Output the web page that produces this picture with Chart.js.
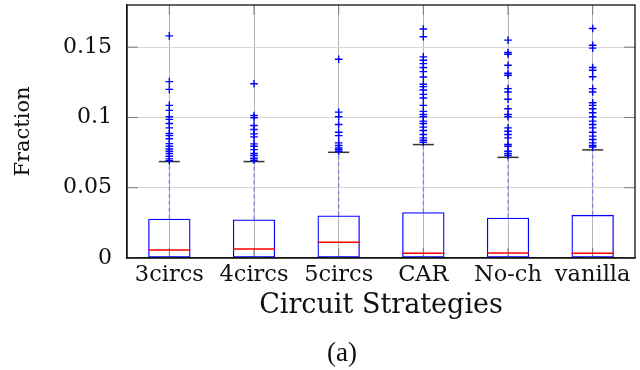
<!DOCTYPE html>
<html>
<head>
<meta charset="utf-8">
<title>Circuit Strategies</title>
<script src="https://cdn.jsdelivr.net/npm/chart.js@4.4.1/dist/chart.umd.min.js"></script>
<style>
  html, body { margin: 0; padding: 0; background: #fff; }
  #wrap { width: 640px; height: 370px; }
</style>
</head>
<body>
<div id="wrap"><canvas id="boxChart" width="640" height="370"></canvas></div>
<script>
// box plot data per circuit strategy
const categories = ['3circs', '4circs', '5circs', 'CAR', 'No-ch', 'vanilla'];
const lowerWhisker = [0, 0, 0, 0, 0, 0];
const q1 = [0, 0, 0, 0, 0, 0];
const medians = [0.0057, 0.0064, 0.0112, 0.0034, 0.0036, 0.0034];
const q3 = [0.0279, 0.0274, 0.0302, 0.0326, 0.0286, 0.0307];
const upperWhisker = [0.0686, 0.0686, 0.0752, 0.0807, 0.0716, 0.0769];

const outliers3circs = [0.158, 0.1255, 0.12, 0.1086, 0.105, 0.1005, 0.0986, 0.0957, 0.0926, 0.0886,
  0.0871, 0.0848, 0.0814, 0.0795, 0.0776, 0.076, 0.0743, 0.0724, 0.0705, 0.0693];
const outliers4circs = [0.124, 0.1014, 0.0998, 0.0943, 0.0914, 0.0883, 0.0862, 0.0812, 0.0795,
  0.0771, 0.0743, 0.0729, 0.071, 0.0695];
const outliers5circs = [0.1414, 0.1038, 0.1005, 0.095, 0.0895, 0.0871, 0.0819, 0.08, 0.0783,
  0.0771, 0.076];
const outliersCAR = [0.1629, 0.1574, 0.1431, 0.1407, 0.1383, 0.1355, 0.1326, 0.1288, 0.1236,
  0.1219, 0.1195, 0.1164, 0.1138, 0.1086, 0.1043, 0.1021, 0.1005, 0.0974, 0.0957, 0.0931,
  0.0907, 0.0879, 0.0855, 0.0838, 0.0824];
const outliersNoCh = [0.155, 0.1462, 0.145, 0.1371, 0.1314, 0.13, 0.1205, 0.1181, 0.1129,
  0.1062, 0.1021, 0.1005, 0.0926, 0.0902, 0.0879, 0.0855, 0.0807, 0.0795, 0.076, 0.0743, 0.0729];
const outliersVanilla = [0.1633, 0.1514, 0.1493, 0.1355, 0.1336, 0.129, 0.1205, 0.1181, 0.1105,
  0.1086, 0.1062, 0.1033, 0.1005, 0.0974, 0.095, 0.0926, 0.0895, 0.0867, 0.0843, 0.0819, 0.08, 0.079];
const outliers = [outliers3circs, outliers4circs, outliers5circs, outliersCAR, outliersNoCh, outliersVanilla];

const yTicks = [0, 0.05, 0.1, 0.15];
const yTickLabels = ['0', '0.05', '0.1', '0.15'];
const yMax = 0.18;
const caption = '(a)';

const BLUE = '#0000ff';
const SERIF = "'DejaVu Serif', serif";

// dashed whisker from the box top up to the upper cap, one line per strategy
const whiskerSets = categories.map((c, i) => ({
  type: 'line',
  data: [{ x: c, y: q3[i] }, { x: c, y: upperWhisker[i] }],
  borderColor: 'rgba(70, 70, 255, 0.45)',
  borderWidth: 1.6,
  borderDash: [4, 3],
  pointRadius: 0,
  order: 3
}));

const outlierPoints = [];
outliers.forEach((list, i) => {
  list.forEach(v => outlierPoints.push({ x: categories[i], y: v }));
});

// inner tick marks, the closed frame round the plot and the sub-figure caption
const framePlugin = {
  id: 'frame',
  beforeDatasetsDraw(chart) {
    const { ctx, chartArea: a, scales: { x, y } } = chart;
    ctx.save();
    ctx.strokeStyle = '#7a7a7a';
    ctx.lineWidth = 1;
    const seg = (x0, y0, x1, y1) => {
      ctx.beginPath(); ctx.moveTo(x0, y0); ctx.lineTo(x1, y1); ctx.stroke();
    };
    yTicks.forEach(v => {
      const py = y.getPixelForValue(v);
      seg(a.left, py, a.left + 11, py);
      seg(a.right - 11, py, a.right, py);
    });
    categories.forEach((c, i) => {
      const px = x.getPixelForValue(i);
      seg(px, a.bottom, px, a.bottom - 10);
      seg(px, a.top, px, a.top + 10);
    });
    ctx.restore();
  },
  afterDatasetsDraw(chart) {
    const { ctx, chartArea: a } = chart;
    ctx.save();
    ctx.strokeStyle = '#111';
    ctx.lineWidth = 1.3;
    ctx.strokeRect(a.left, a.top, a.right - a.left, a.bottom - a.top);
    ctx.restore();
  },
  afterDraw(chart) {
    const { ctx, width, height } = chart;
    ctx.save();
    ctx.fillStyle = '#111';
    ctx.font = "27px 'Liberation Serif', serif";
    ctx.textAlign = 'center';
    ctx.textBaseline = 'middle';
    ctx.fillText(caption, width / 2 + 22, height - 16);
    ctx.restore();
  }
};

const config = {
  type: 'bar',
  data: {
    labels: categories,
    datasets: [
      {
        label: 'box',
        data: q1.map((lo, i) => [lo, q3[i]]),
        backgroundColor: 'rgba(0,0,0,0)',
        borderColor: BLUE,
        borderWidth: 1.3,
        borderSkipped: false,
        barPercentage: 0.5,
        categoryPercentage: 1.0,
        order: 4
      },
      ...whiskerSets,
      {
        type: 'line',
        label: 'median',
        data: medians,
        showLine: false,
        pointStyle: 'line',
        pointRadius: 21,
        pointBorderColor: '#ff0000',
        pointBorderWidth: 1.4,
        order: 2
      },
      {
        type: 'line',
        label: 'upper cap',
        data: upperWhisker,
        showLine: false,
        pointStyle: 'line',
        pointRadius: 10.5,
        pointBorderColor: '#333',
        pointBorderWidth: 1.5,
        order: 2
      },
      {
        type: 'line',
        label: 'lower cap',
        data: lowerWhisker,
        showLine: false,
        pointStyle: 'line',
        pointRadius: 10.5,
        pointBorderColor: '#333',
        pointBorderWidth: 1.5,
        order: 2
      },
      {
        type: 'line',
        label: 'outliers',
        data: outlierPoints,
        showLine: false,
        pointStyle: 'cross',
        pointRadius: 3.8,
        pointBorderColor: BLUE,
        pointBorderWidth: 1.4,
        order: 1
      }
    ]
  },
  options: {
    responsive: false,
    animation: false,
    layout: { autoPadding: false, padding: { top: 5, right: 5, left: 0, bottom: 36 } },
    plugins: {
      legend: { display: false },
      tooltip: { enabled: false },
      title: { display: false }
    },
    scales: {
      x: {
        offset: true,
        grid: { offset: false, color: '#b4b4b4', lineWidth: 1, drawTicks: false },
        border: { display: true, color: '#111', width: 1.3 },
        ticks: { color: '#111', padding: 4, font: { family: SERIF, size: 22.5 } },
        title: {
          display: true,
          text: 'Circuit Strategies',
          color: '#111',
          font: { family: SERIF, size: 27 },
          padding: { top: 4, bottom: 12 }
        },
        afterFit(scale) {
          scale.height = 76;
          scale.paddingLeft = 0;
          scale.paddingRight = 0;
        }
      },
      y: {
        min: 0,
        max: yMax,
        grid: { color: '#d8d8d8', lineWidth: 1, drawTicks: false },
        border: { display: true, color: '#111', width: 1.3 },
        afterBuildTicks(scale) { scale.ticks = yTicks.map(v => ({ value: v })); },
        ticks: {
          color: '#111',
          padding: 15,
          font: { family: SERIF, size: 22 },
          callback: (v) => yTickLabels[yTicks.indexOf(v)]
        },
        title: {
          display: true,
          text: 'Fraction',
          color: '#111',
          font: { family: SERIF, size: 21 },
          padding: { top: 11, bottom: 0 }
        },
        afterFit(scale) {
          scale.width = 127;
          scale.paddingTop = 0;
          scale.paddingBottom = 0;
        }
      }
    }
  },
  plugins: [framePlugin]
};

window.addEventListener('DOMContentLoaded', () => {
  const ctx = document.getElementById('boxChart');
  new Chart(ctx, config);
});
</script>
</body>
</html>
